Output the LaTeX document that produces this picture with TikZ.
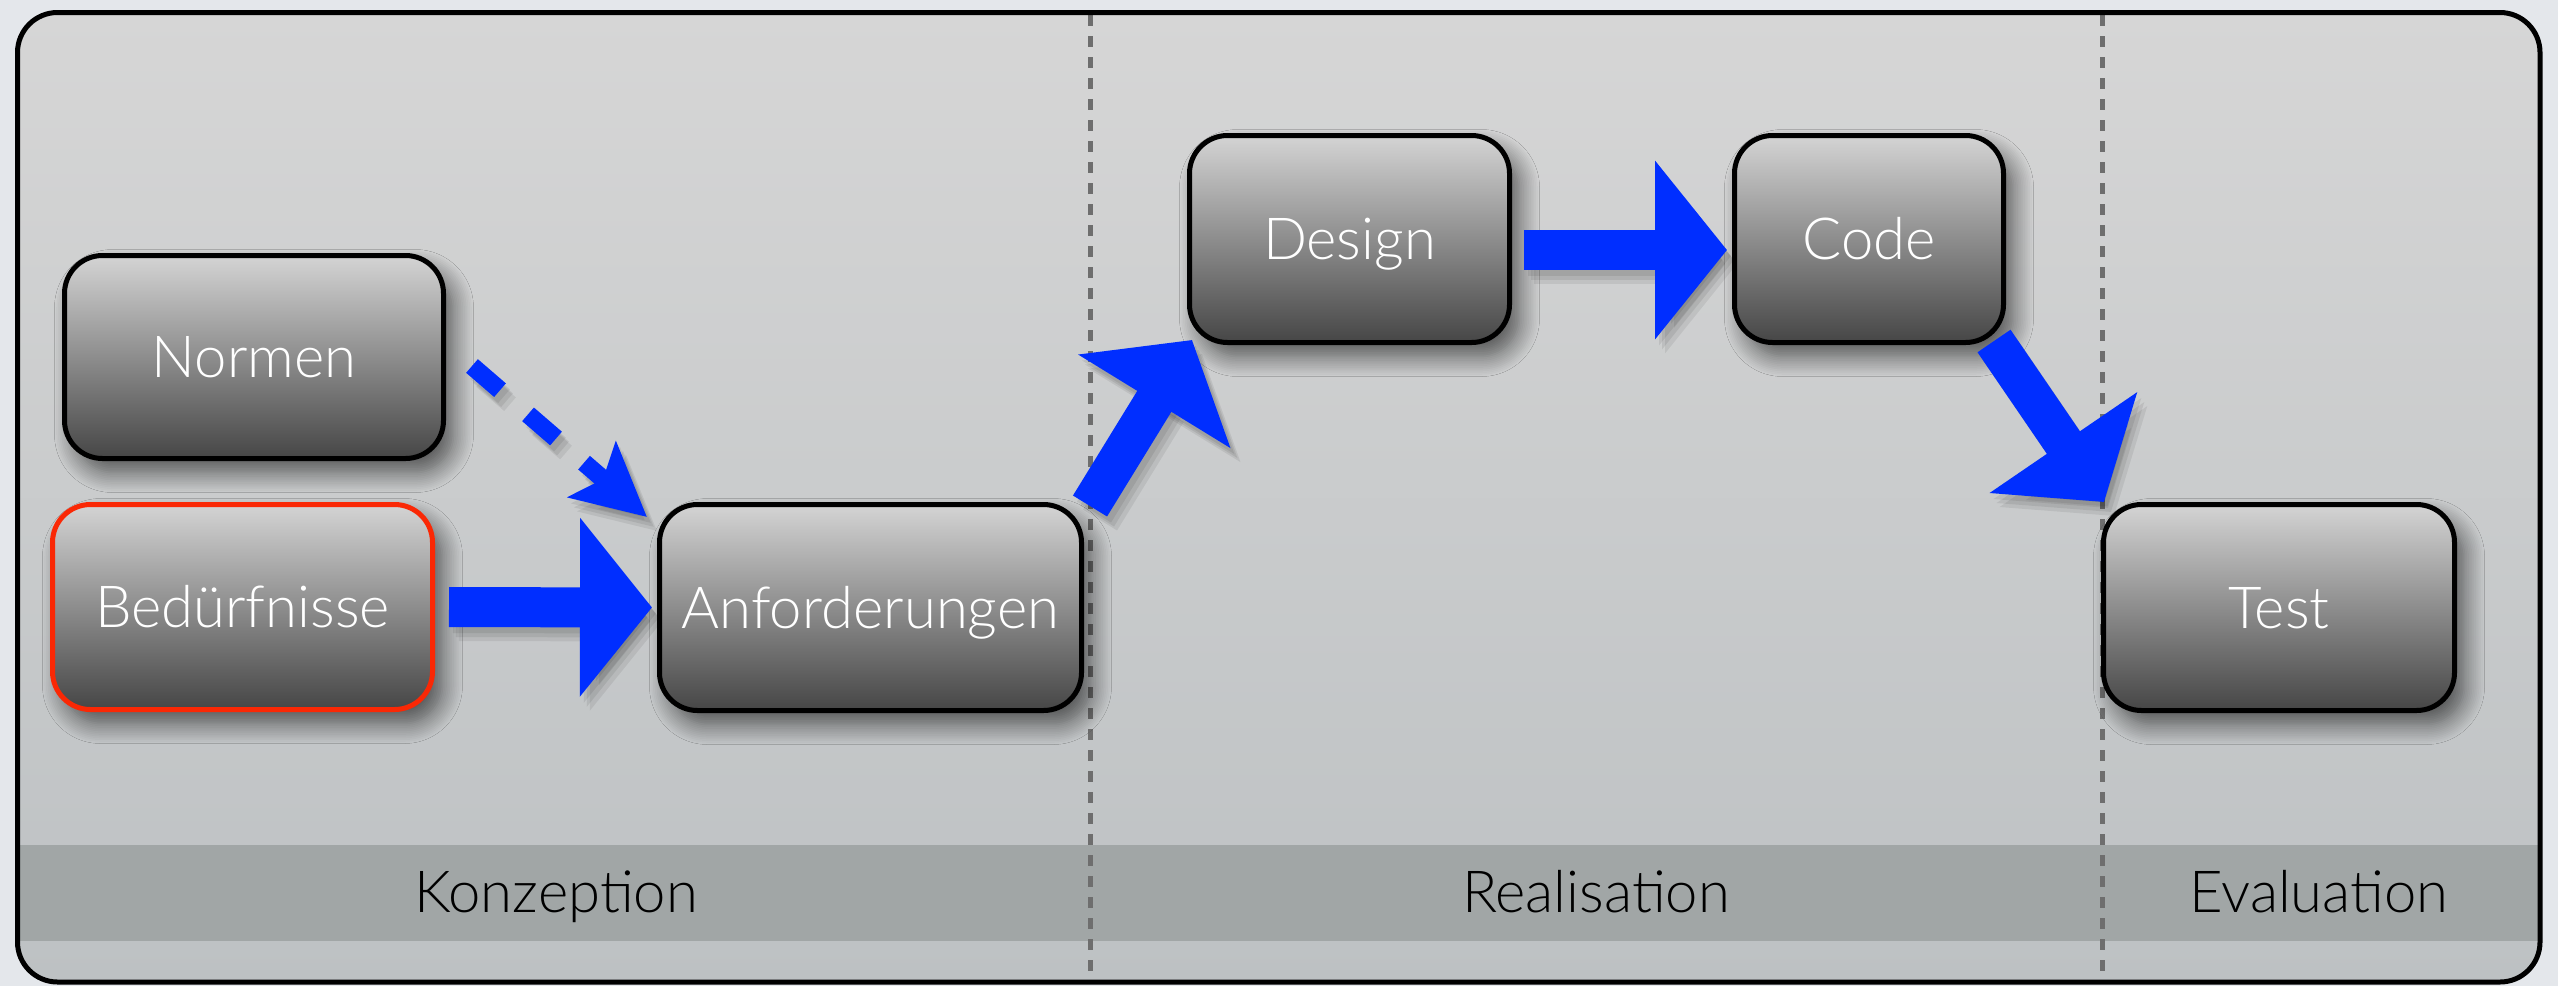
\documentclass[tikz,border=0pt]{standalone}
\usepackage{fontspec}
\setmainfont{Lato Light}
\usetikzlibrary{arrows.meta,shadows.blur}
\definecolor{bgout}{RGB}{228,231,235}
\definecolor{paneltop}{RGB}{214,214,214}
\definecolor{panelbot}{RGB}{189,193,195}
\definecolor{bandcol}{RGB}{161,166,166}
\definecolor{divcol}{RGB}{110,110,110}
\definecolor{boxtop}{RGB}{212,212,212}
\definecolor{boxbot}{RGB}{70,70,70}
\definecolor{flowblue}{RGB}{0,46,255}
\definecolor{needred}{RGB}{250,40,5}
\newcommand\drawflows[1]{%
  \draw[bigflow,#1,shorten <=3.5pt,shorten >=1.25pt] (bed.east) -- (anf.west);
  \draw[dashflow,#1] ([shift={(26,9)}]normen.east) -- ([shift={(-10,15)}]anf.north west);
  \draw[bigflow,#1] ([shift={(6,4)}]anf.north east) -- ([shift={(5,-5)}]design.south west);
  \draw[bigflow,#1,shorten <=3pt,shorten >=1.25pt] ([yshift=-2.75pt]design.east) -- ([yshift=-2.75pt]code.west);
  \draw[bigflow,#1] ([shift={(-12,-4)}]code.south east) -- ([shift={(3,0)}]test.north west);
}
\begin{document}
\begin{tikzpicture}[x=0.25pt,y=-0.25pt,
  procbox/.style={rectangle, rounded corners=9.5pt, draw=black, line width=1.25pt,
    top color=boxtop, bottom color=boxbot, text=white,
    font=\fontsize{14.5}{17}\selectfont, text height=10.4pt, text depth=0pt, inner sep=0pt,
    blur shadow={shadow xshift=2.5pt, shadow yshift=-3.5pt, shadow blur radius=5pt,
      shadow blur steps=12, shadow opacity=60}},
  phaselabel/.style={font=\fontsize{14.5}{17}\selectfont, text=black, text height=10.4pt, text depth=0pt, inner sep=0pt},
  bigflow/.style={draw=flowblue, line width=10pt, -{Triangle[length=18pt,width=43.75pt]}},
  dashflow/.style={draw=flowblue, line width=4.5pt, dash pattern=on 9.25pt off 9.25pt,
    -{Stealth[length=18pt,width=18pt,inset=3.5pt]}},
  divider/.style={draw=divcol, line width=1.25pt, dash pattern=on 2.75pt off 2.5pt},
  panelframe/.style={draw=black, line width=1.25pt, rounded corners=10pt},
]
\fill[bgout] (0,0) rectangle (2558,986);
\useasboundingbox (0,0) rectangle (2558,986);
% panel
\path[top color=paneltop, bottom color=panelbot, rounded corners=10pt] (17.5,12.5) rectangle (2540,982);
\fill[bandcol] (20,845) rectangle (2537.5,941);
% phase dividers
\coordinate (d1t) at (1090,15);  \coordinate (d1b) at (1090,982);
\coordinate (d2t) at (2102,15);  \coordinate (d2b) at (2102,982);
\draw[divider] (d1t) -- (d1b);
\draw[divider] (d2t) -- (d2b);
\draw[panelframe] (17.5,12.5) rectangle (2540,982);
% phase labels
\node[phaselabel] (konz) at (556,892) {Konzeption};
\node[phaselabel] (real) at (1596,892) {Realisation};
\node[phaselabel] (eval) at (2319,892) {Evaluation};
% boxes
\node[procbox, minimum width=94.75pt, minimum height=50.75pt] (normen) at (254,357) {Normen};
\node[procbox, draw=needred, minimum width=95pt, minimum height=51.25pt] (bed) at (242.5,607) {Bedürfnisse};
\node[procbox, minimum width=105.5pt, minimum height=51.5pt] (anf) at (870.5,607.5) {Anforderungen};
\node[procbox, minimum width=80pt, minimum height=51.75pt] (design) at (1349.5,239) {Design};
\node[procbox, minimum width=67.25pt, minimum height=51.75pt] (code) at (1869,239) {Code};
\node[procbox, minimum width=87.75pt, minimum height=51.5pt] (test) at (2279,607.5) {Test};
% arrow shadows
\begin{scope}[transform canvas={xshift=1pt,yshift=-1.5pt}, opacity=0.08]
  \drawflows{draw=black}
\end{scope}
\begin{scope}[transform canvas={xshift=1.75pt,yshift=-2.5pt}, opacity=0.08]
  \drawflows{draw=black}
\end{scope}
\begin{scope}[transform canvas={xshift=2.5pt,yshift=-3.5pt}, opacity=0.07]
  \drawflows{draw=black}
\end{scope}
% arrows
\drawflows{}
\end{tikzpicture}
\end{document}
